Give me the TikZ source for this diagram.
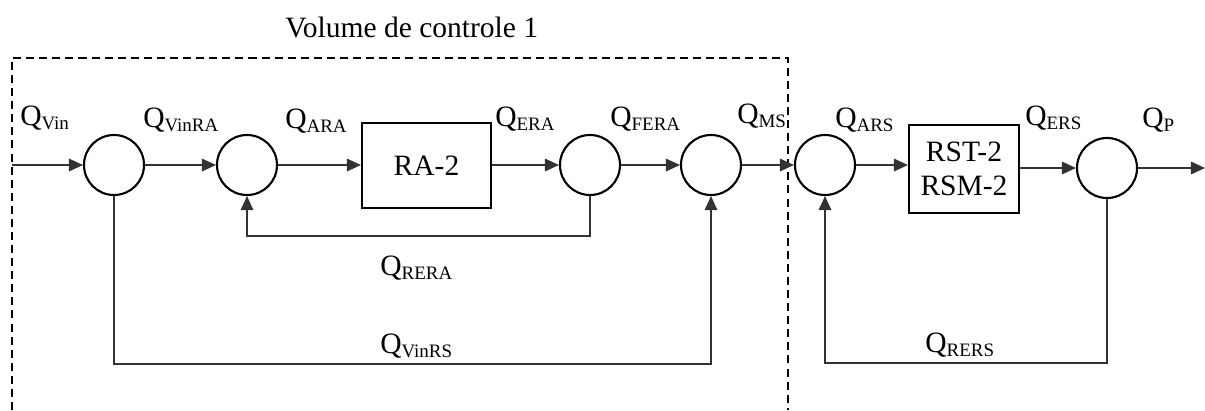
\documentclass[tikz,border=0pt]{standalone}
\usepackage{fontspec}
\setmainfont{Liberation Serif}
\usetikzlibrary{arrows.meta}
\newcommand\Qsub[1]{Q\raisebox{-3.5pt}{\fontsize{13.5}{14}\selectfont #1}}
\begin{document}
\begin{tikzpicture}[x=0.025cm,y=-0.025cm,
  font=\fontsize{21}{25}\selectfont,
  sumnode/.style={circle,draw=black,line width=1.5pt,minimum size=1.5cm,inner sep=0pt},
  blockbox/.style={rectangle,draw=black,line width=1.5pt,inner sep=0pt,align=center},
  conn/.style={draw=black!80,line width=0.95pt},
  arr/.style={conn,-{Triangle[length=10pt,width=9pt]}},
  lbl/.style={anchor=base west,inner sep=0pt},
  frame/.style={draw=black,line width=1.6pt,dash pattern=on 5.7pt off 3.6pt}]
\useasboundingbox (0,0) rectangle (1205,410);
% control volume frame
\coordinate (fbl) at (12,410);
\coordinate (ftl) at (12,58);
\coordinate (ftr) at (788,58);
\coordinate (fbr) at (788,410);
\draw[frame] (fbl) -- (ftl) -- (ftr) -- (fbr);
\node[lbl] (title) at (285,37) {Volume de controle 1};
% nodes
\node[sumnode] (c1) at (114,165) {};
\node[sumnode] (c2) at (247,165) {};
\node[blockbox,minimum width=3.225cm,minimum height=2.125cm] (ra) at (426.5,165.5) {RA-2};
\node[sumnode] (c3) at (590,165) {};
\node[sumnode] (c4) at (711,165) {};
\node[sumnode] (c5) at (825,165) {};
\node[blockbox,minimum width=2.75cm,minimum height=2.2cm] (rst) at (964,169) {RST-2\\[-1pt]RSM-2};
\node[sumnode] (c6) at (1107,168) {};
\coordinate (in) at (12,165);
\coordinate (out) at (1205,168);
\coordinate (fb1) at (590,236);
\coordinate (fb2) at (114,364);
\coordinate (fb3) at (1107,363);
% connectors
\draw[arr] (in) -- (c1.west);
\draw[arr] (c1.east) -- (c2.west);
\draw[arr] (c2.east) -- (c2.east -| ra.west);
\draw[arr] (ra.east |- c3.west) -- (c3.west);
\draw[arr] (c3.east) -- (c4.west);
\draw[arr] (c4.east) -- (c5.west);
\draw[arr] (c5.east) -- (c5.east -| rst.west);
\draw[arr] (rst.east |- c6.west) -- (c6.west);
\draw[arr] (c6.east) -- (out);
\draw[arr] (c3.south) -- (fb1) -| (c2.south);
\draw[arr] (c1.south) -- (fb2) -| (c4.south);
\draw[arr] (c6.south) -- (fb3) -| (c5.south);
% labels
\node[lbl] (lvin) at (20,125) {\Qsub{Vin}};
\node[lbl] (lvinra) at (143,127) {\Qsub{VinRA}};
\node[lbl] (lara) at (285,128) {\Qsub{ARA}};
\node[lbl] (lera) at (495,126) {\Qsub{ERA}};
\node[lbl] (lfera) at (610,126) {\Qsub{FERA}};
\node[lbl] (lms) at (737,123) {\Qsub{MS}};
\node[lbl] (lars) at (835,127) {\Qsub{ARS}};
\node[lbl] (lers) at (1025,125) {\Qsub{ERS}};
\node[lbl] (lp) at (1142,127) {\Qsub{P}};
\node[lbl] (lrera) at (380,275) {\Qsub{RERA}};
\node[lbl] (lvinrs) at (380,353) {\Qsub{VinRS}};
\node[lbl] (lrers) at (925,352) {\Qsub{RERS}};
\end{tikzpicture}
\end{document}
